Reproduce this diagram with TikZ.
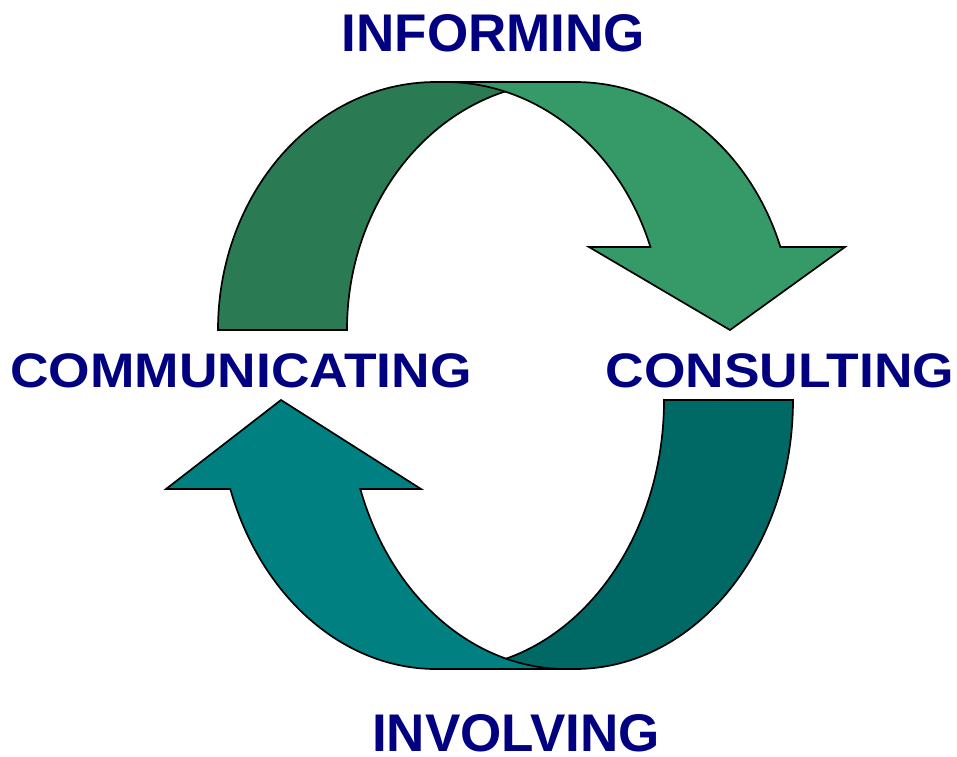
\documentclass[tikz,border=0pt]{standalone}
\usepackage{graphicx}
\usepackage{fontspec}
\setmainfont{Liberation Sans}
\definecolor{leafback}{RGB}{42,122,84}
\definecolor{leaffront}{RGB}{53,154,104}
\definecolor{tealback}{RGB}{0,104,101}
\definecolor{tealfront}{RGB}{0,128,128}
\definecolor{wordblue}{RGB}{0,0,128}

\begin{document}
\begin{tikzpicture}[x=1pt,y=-1pt,
  band/.style={draw=black,line width=1.7pt,line join=miter},
  word/.style={text=wordblue,inner sep=0pt,anchor=base,font=\fontsize{53}{60}\selectfont\bfseries},
  sideword/.style={word,font=\fontsize{48.5}{56}\selectfont\bfseries}]
\useasboundingbox (0,0) rectangle (957,756);

% upper arrow
\filldraw[band,fill=leafback] (218,330) arc[start angle=180,end angle=270,x radius=218,y radius=248]
  -- (565,82) arc[start angle=270,end angle=180,x radius=218,y radius=248] -- cycle;
\filldraw[band,fill=leaffront] (445,82) -- (575,82) arc[start angle=270,end angle=340.45,x radius=218,y radius=248]
  -- (845,247) -- (730,330) -- (589,247) -- (650.4,247)
  arc[start angle=340.45,end angle=270,x radius=218,y radius=248] -- cycle;

% lower arrow
\filldraw[band,fill=tealback] (793,400) arc[start angle=0,end angle=90,x radius=218,y radius=269]
  -- (446,669) arc[start angle=90,end angle=0,x radius=218,y radius=269] -- cycle;
\filldraw[band,fill=tealfront] (566,669) -- (436,669) arc[start angle=90,end angle=160.68,x radius=218,y radius=269]
  -- (166,489) -- (281,400) -- (421,489) -- (360.3,489)
  arc[start angle=160.68,end angle=90,x radius=218,y radius=269] -- cycle;

\node[word] (informing) at (493.5,51) {INFORMING};
\node[sideword] (communicating) at (241,387) {\scalebox{1.1}[1]{COMMUNICATING}};
\node[sideword] (consulting) at (780,387) {\scalebox{1.1}[1]{CONSULTING}};
\node[word] (involving) at (516,751) {INVOLVING};
\end{tikzpicture}
\end{document}
